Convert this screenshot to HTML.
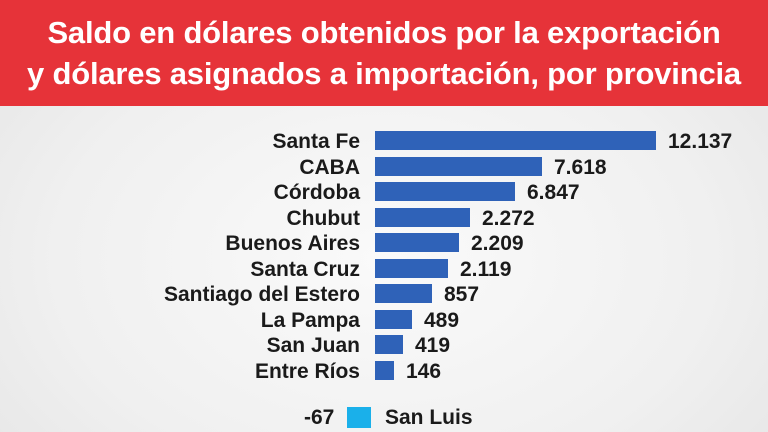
<!DOCTYPE html><html><head><meta charset="utf-8"><style>
body{margin:0;width:768px;height:432px;overflow:hidden;background:radial-gradient(ellipse at 50% 60%,#fafafa 0%,#f0f0f0 60%,#e4e4e4 100%);font-family:"Liberation Sans",sans-serif;position:relative}
.hdr{position:absolute;left:0;top:0;width:768px;height:106px;background:#e63339;color:#fff;font-weight:bold;font-size:31px;text-align:center;line-height:41px;padding-top:12px;box-sizing:border-box;letter-spacing:-0.2px}
.lab{position:absolute;right:408px;font-weight:bold;font-size:21px;color:#1a1a1a;line-height:19px;white-space:nowrap}
.bar{position:absolute;left:375px;height:19px;background:#2f62b8}
.val{position:absolute;font-weight:bold;font-size:21px;color:#1a1a1a;line-height:19px}
</style></head><body>
<div class="hdr">Saldo en dólares obtenidos por la exportación<br>y dólares asignados a importación, por provincia</div>
<div id="c"></div>
<script>
var d=[["Santa Fe",656,"12.137"],["CABA",542,"7.618"],["Córdoba",515,"6.847"],["Chubut",470,"2.272"],["Buenos Aires",459,"2.209"],["Santa Cruz",448,"2.119"],["Santiago del Estero",432,"857"],["La Pampa",412,"489"],["San Juan",403,"419"],["Entre Ríos",394,"146"]];
var h="";d.forEach(function(r,i){var y=131+i*25.56;
h+='<div class="lab" style="top:'+(y+1)+'px">'+r[0]+'</div><div class="bar" style="top:'+y+'px;width:'+(r[1]-375)+'px"></div><div class="val" style="top:'+(y+1)+'px;left:'+(r[1]+12)+'px">'+r[2]+'</div>';});
document.getElementById("c").innerHTML=h;
</script>
<div class="val" style="top:408px;left:304px">-67</div>
<div style="position:absolute;left:347px;top:407px;width:24px;height:21px;background:#1ab0ea"></div>
<div class="val" style="top:408px;left:385px">San Luis</div>
</body></html>
